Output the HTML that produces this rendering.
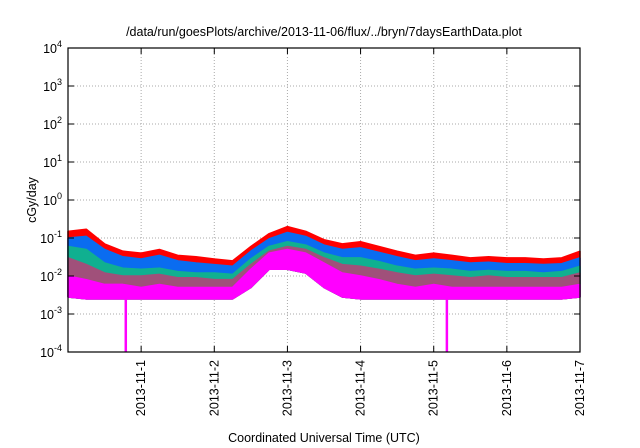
<!DOCTYPE html>
<html><head><meta charset="utf-8"><style>
body{margin:0;background:#fff;}
svg{display:block;font-family:"Liberation Sans",sans-serif;}
</style></head><body>
<svg id="chart" width="640" height="448" viewBox="0 0 640 448">
<text x="324" y="36" text-anchor="middle" font-size="12.5">/data/run/goesPlots/archive/2013-11-06/flux/../bryn/7daysEarthData.plot</text>
<text transform="translate(36,200) rotate(-90)" text-anchor="middle" font-size="12.5">cGy/day</text>
<text x="324" y="442" text-anchor="middle" font-size="12.5">Coordinated Universal Time (UTC)</text>
<g id="grid"></g><g id="series"></g><g id="axes"></g>
</svg>
<script>
const xTickLabels=["2013-11-1","2013-11-2","2013-11-3","2013-11-4","2013-11-5","2013-11-6","2013-11-7"];
const xTickDays=[1,2,3,4,5,6,7];
const yTickExps=[-4,-3,-2,-1,0,1,2,3,4];
const sampleDays=[0,0.25,0.5,0.75,1,1.25,1.5,1.75,2,2.25,2.5,2.75,3,3.25,3.5,3.75,4,4.25,4.5,4.75,5,5.25,5.5,5.75,6,6.25,6.5,6.75,7];
const redTop=[0.15,0.17,0.07,0.045,0.04,0.05,0.035,0.032,0.028,0.025,0.06,0.13,0.2,0.15,0.09,0.07,0.08,0.06,0.045,0.035,0.04,0.035,0.03,0.032,0.03,0.03,0.028,0.03,0.045];
const blueTop=[0.1,0.11,0.05,0.032,0.028,0.035,0.025,0.022,0.02,0.018,0.045,0.095,0.14,0.11,0.065,0.05,0.055,0.042,0.032,0.025,0.028,0.025,0.022,0.023,0.021,0.021,0.02,0.021,0.03];
const tealTop=[0.06,0.05,0.022,0.016,0.015,0.016,0.013,0.012,0.012,0.011,0.028,0.06,0.08,0.065,0.04,0.03,0.03,0.024,0.018,0.015,0.016,0.015,0.013,0.014,0.013,0.013,0.012,0.013,0.018];
const mauveTop=[0.03,0.02,0.012,0.01,0.01,0.011,0.009,0.009,0.008,0.008,0.02,0.045,0.06,0.05,0.03,0.02,0.018,0.015,0.012,0.01,0.011,0.01,0.009,0.01,0.009,0.009,0.009,0.009,0.012];
const magentaTop=[0.01,0.008,0.006,0.006,0.005,0.006,0.005,0.005,0.005,0.005,0.015,0.04,0.05,0.04,0.022,0.012,0.01,0.008,0.006,0.005,0.006,0.005,0.005,0.005,0.005,0.005,0.005,0.005,0.006];
const floorVals=[0.0028,0.0025,0.0025,0.0025,0.0025,0.0025,0.0025,0.0025,0.0025,0.0025,0.005,0.015,0.015,0.012,0.005,0.0028,0.0025,0.0025,0.0025,0.0025,0.0025,0.0025,0.0025,0.0025,0.0025,0.0025,0.0025,0.0025,0.0028];
const spikeDays=[0.79,5.18];
const spikeMin=[0.0001,0.0001];

const NS="http://www.w3.org/2000/svg";
const L=68,R=580,T=48,B=352;
const x=d=>L+(R-L)*d/7;
const y=v=>T+(4-Math.log10(v))*(B-T)/8;
function mk(tag,attrs,parent){const e=document.createElementNS(NS,tag);for(const k in attrs)e.setAttribute(k,attrs[k]);parent.appendChild(e);return e;}
const grid=document.getElementById('grid'),ser=document.getElementById('series'),ax=document.getElementById('axes');
yTickExps.forEach(e=>{
  const yy=y(Math.pow(10,e));
  if(e>-4&&e<4){const g=mk('line',{x1:L,x2:R,y1:yy,y2:yy,stroke:'#aaa','stroke-dasharray':'1,2'},grid);
  
  }
  const t=mk('text',{x:L-6,y:yy+5,'text-anchor':'end','font-size':'12.5'},ax);
  
  
  t.textContent='10';
  const s=mk('tspan',{dy:-6,'font-size':'9'},t);s.textContent=String(e);
  mk('line',{x1:L,x2:L+6,y1:yy,y2:yy,stroke:'#000'},ax);
  mk('line',{x1:R,x2:R-6,y1:yy,y2:yy,stroke:'#000'},ax);
});
xTickDays.forEach((d,i)=>{
  const xx=x(d);
  if(d<7){const g=mk('line',{x1:xx,x2:xx,y1:T,y2:B,stroke:'#aaa','stroke-dasharray':'1,2'},grid);
  
  }
  mk('line',{x1:xx,x2:xx,y1:B,y2:B-6,stroke:'#000'},ax);
  mk('line',{x1:xx,x2:xx,y1:T,y2:T+6,stroke:'#000'},ax);
  const t=mk('text',{transform:`translate(${xx+4},${B+8}) rotate(-90)`,'text-anchor':'end','font-size':'12.5'},ax);
  
  
  t.textContent=xTickLabels[i];
});
function band(top,bot,color,name){
  let p=sampleDays.map((d,i)=>`${x(d)},${y(top[i])}`);
  for(let i=sampleDays.length-1;i>=0;i--)p.push(`${x(sampleDays[i])},${y(bot[i])}`);
  const e=mk('polygon',{points:p.join(' '),fill:color,stroke:color,'stroke-width':1.5,'stroke-linejoin':'bevel'},ser);
  
  
}
band(redTop,floorVals,'#ff0000','series-red');
band(blueTop,floorVals,'#0a6cf0','series-blue');
band(tealTop,floorVals,'#10b090','series-teal');
band(mauveTop,floorVals,'#a0507a','series-mauve');
band(magentaTop,floorVals,'#ff00ff','series-magenta');
spikeDays.forEach((d,i)=>{
  const e=mk('line',{x1:x(d),x2:x(d),y1:y(0.003),y2:y(spikeMin[i]),stroke:'#ff00ff','stroke-width':2.5},ser);
  
  
});
const fr=mk('rect',{x:L,y:T,width:R-L,height:B-T,fill:'none',stroke:'#000','stroke-width':1.2},ax);


</script>
</body></html>
